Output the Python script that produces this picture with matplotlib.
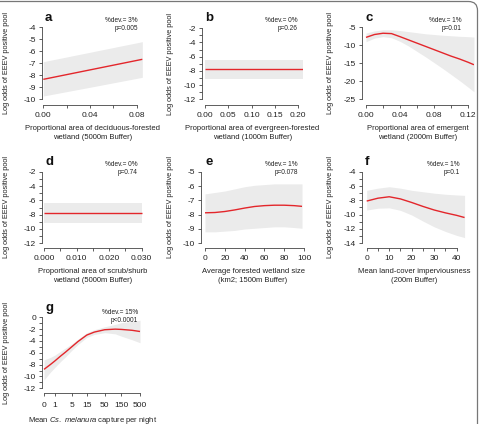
import numpy as np
import matplotlib
matplotlib.use("Agg")
import matplotlib.pyplot as plt
from matplotlib.patches import FancyBboxPatch
from matplotlib.transforms import IdentityTransform

plt.rcParams['font.family'] = ['Liberation Sans', 'DejaVu Sans']
plt.rcParams['mathtext.fontset'] = 'custom'
plt.rcParams['mathtext.rm'] = 'Liberation Sans'
plt.rcParams['mathtext.it'] = 'Liberation Sans:italic'

# ---------------- data ----------------
# a: deciduous-forested wetland (5000m)
a_x = [0.0, 0.0425, 0.085]
a_fit = [-8.35, -7.51, -6.67]
a_hi = [-6.87, -6.03, -5.19]
a_lo = [-9.75, -8.97, -8.18]

# b: evergreen-forested wetland (1000m)
b_x = [0.0, 0.21]
b_fit = [-7.77, -7.77]
b_hi = [-6.46, -6.46]
b_lo = [-9.13, -9.13]

# c: emergent wetland (2000m)
c_x = [0.0, 0.01, 0.02, 0.03, 0.04, 0.05, 0.06, 0.07, 0.08, 0.09, 0.10, 0.11, 0.12, 0.127]
c_fit = [-7.8, -7.0, -6.65, -6.75, -7.6, -8.5, -9.4, -10.3, -11.2, -12.1, -13.0, -13.8, -14.7, -15.4]
c_hi = [-6.6, -6.0, -5.7, -5.7, -5.9, -6.2, -6.5, -6.8, -7.0, -7.2, -7.35, -7.5, -7.6, -7.7]
c_lo = [-9.0, -8.0, -7.6, -7.9, -8.9, -10.2, -11.7, -13.2, -14.8, -16.4, -18.1, -19.8, -21.6, -22.9]

# d: scrub/shrub wetland (5000m)
d_x = [0.0, 0.030]
d_fit = [-7.73, -7.73]
d_hi = [-6.42, -6.42]
d_lo = [-9.13, -9.13]

# e: average forested wetland size
e_x = [0, 10, 20, 30, 40, 50, 60, 70, 80, 90, 98]
e_fit = [-7.87, -7.85, -7.78, -7.67, -7.54, -7.43, -7.37, -7.34, -7.34, -7.37, -7.42]
e_hi = [-6.55, -6.45, -6.35, -6.2, -6.05, -5.95, -5.9, -5.85, -5.85, -5.85, -5.85]
e_lo = [-9.2, -9.2, -9.15, -9.1, -9.0, -8.95, -8.9, -8.85, -8.85, -8.9, -8.95]

# f: imperviousness
f_x = [0, 5, 10, 15, 20, 25, 30, 35, 40, 43.5]
f_fit = [-8.1, -7.7, -7.5, -7.8, -8.3, -8.85, -9.35, -9.75, -10.1, -10.4]
f_hi = [-6.6, -6.3, -6.1, -6.3, -6.6, -6.8, -7.0, -7.15, -7.25, -7.3]
f_lo = [-9.35, -9.1, -9.05, -9.4, -10.05, -10.9, -11.7, -12.35, -12.9, -13.2]

# g: Cs. melanura capture per night
g_x = [0, 0.5, 1, 2, 3, 5, 8, 15, 25, 50, 100, 150, 300, 500]
g_fit = [-8.8, -8.0, -7.4, -6.5, -5.9, -5.0, -4.1, -3.0, -2.5, -2.1, -2.0, -2.05, -2.2, -2.4]
g_hi = [-7.2, -6.8, -6.4, -5.7, -5.2, -4.5, -3.7, -2.6, -2.1, -1.6, -1.2, -0.9, -0.7, -0.5]
g_lo = [-10.6, -9.3, -8.5, -7.4, -6.7, -5.6, -4.6, -3.4, -2.9, -2.6, -2.8, -3.2, -3.8, -4.3]

titles = ['a', 'b', 'c', 'd', 'e', 'f', 'g']
devs = ['%dev.= 3%', '%dev.= 0%', '%dev.= 1%', '%dev.= 0%', '%dev.= 1%', '%dev.= 1%', '%dev.= 15%']
pvals = ['p=0.005', 'p=0.26', 'p=0.01', 'p=0.74', 'p=0.078', 'p=0.1', 'p<0.0001']
xlabels = ['Proportional area of deciduous-forested\nwetland (5000m Buffer)',
           'Proportional area of evergreen-forested\nwetland (1000m Buffer)',
           'Proportional area of emergent\nwetland (2000m Buffer)',
           'Proportional area of scrub/shurb\nwetland (5000m Buffer)',
           'Average forested wetland size\n(km2; 1500m Buffer)',
           'Mean land-cover imperviousness\n(200m Buffer)',
           r'Mean $\it{Cs.}$ $\it{melanura}$ capture per night']
ylabel = 'Log odds of EEEV positive pool'

a_xt = [0.0, 0.02, 0.04, 0.06, 0.08]
a_xl = ['0.00', '', '0.04', '', '0.08']
a_yt = [-4, -5, -6, -7, -8, -9, -10]
a_yl = ['-4', '-5', '-6', '-7', '-8', '-9', '-10']
b_xt = [0.0, 0.05, 0.10, 0.15, 0.20]
b_xl = ['0.00', '0.05', '0.10', '0.15', '0.20']
b_yt = list(range(-2, -13, -1))
b_yl = ['-2', '', '-4', '', '-6', '', '-8', '', '-10', '', '-12']
c_xt = [0.0, 0.02, 0.04, 0.06, 0.08, 0.10, 0.12]
c_xl = ['0.00', '', '0.04', '', '0.08', '', '0.12']
c_yt = [-5, -10, -15, -20, -25]
c_yl = ['-5', '-10', '-15', '-20', '-25']
d_xt = [0.0, 0.005, 0.010, 0.015, 0.020, 0.025, 0.030]
d_xl = ['0.000', '', '0.010', '', '0.020', '', '0.030']
d_yt = b_yt
d_yl = b_yl
e_xt = [0, 20, 40, 60, 80, 100]
e_xl = ['0', '20', '40', '60', '80', '100']
e_yt = [-5, -6, -7, -8, -9, -10]
e_yl = ['-5', '-6', '-7', '-8', '-9', '-10']
f_xt = [0, 5, 10, 15, 20, 25, 30, 35, 40]
f_xl = ['0', '', '10', '', '20', '', '30', '', '40']
f_yt = list(range(-4, -15, -1))
f_yl = ['-4', '', '-6', '', '-8', '', '-10', '', '-12', '', '-14']
g_xt = [0, 1, 5, 15, 50, 150, 500]
g_xl = ['0', '1', '5', '15', '50', '150', '500']
g_yt = list(range(0, -13, -1))
g_yl = ['0', '', '-2', '', '-4', '', '-6', '', '-8', '', '-10', '', '-12']

# ---------------- layout (pixels) ----------------
W, H = 480, 424
fig = plt.figure(figsize=(W / 100, H / 100), dpi=100)

RED = '#e3262b'
BAND = '#ebebeb'
AXC = '#444444'
TXT = '#222222'


def fxp(px):
    return px / W


def fyp(py):
    return 1 - py / H


def make_panel(box, xref, yref, x, fit, hi, lo, xt, xl, yt, yl, xfun=None):
    left, right, bottom, top = box
    ax = fig.add_axes([fxp(left), fyp(bottom), (right - left) / W, (bottom - top) / H])
    fwd = (lambda v: v) if xfun is None else xfun[0]
    inv = (lambda v: v) if xfun is None else xfun[1]
    if xfun is not None:
        ax.set_xscale('function', functions=xfun)
    (xv1, xp1), (xv2, xp2) = xref
    t1, t2 = fwd(xv1), fwd(xv2)
    sx = (t2 - t1) / (xp2 - xp1)
    ax.set_xlim(inv(t1 + (left - xp1) * sx), inv(t1 + (right - xp1) * sx))
    (yv1, yp1), (yv2, yp2) = yref
    sy = (yv2 - yv1) / (yp2 - yp1)
    ax.set_ylim(yv1 + (bottom - yp1) * sy, yv1 + (top - yp1) * sy)

    ax.fill_between(x, lo, hi, color=BAND, lw=0)
    ax.plot(x, fit, color=RED, lw=1.0, solid_capstyle='butt')

    ax.set_xticks(xt)
    ax.set_xticklabels(xl)
    ax.set_yticks(yt)
    ax.set_yticklabels(yl)
    ax.xaxis.set_minor_locator(matplotlib.ticker.NullLocator())
    for s in ['top', 'right']:
        ax.spines[s].set_visible(False)
    ax.spines['left'].set_bounds(min(yt), max(yt))
    ax.spines['bottom'].set_bounds(min(xt), max(xt))
    for s in ['left', 'bottom']:
        ax.spines[s].set_color(AXC)
        ax.spines[s].set_linewidth(0.6)
    ax.tick_params(axis='both', direction='out', length=2.2, width=0.6, color=AXC,
                   labelsize=6.0, labelcolor=TXT)
    ax.tick_params(axis='x', pad=2.6)
    ax.tick_params(axis='y', pad=2.2)
    ax.patch.set_visible(False)
    return ax


panels = [
    ((42, 143, 105, 20), ((0, 43.3), (0.08, 136.5)), ((-4, 27.5), (-10, 99)),
     a_x, a_fit, a_hi, a_lo, a_xt, a_xl, a_yt, a_yl),
    ((202, 303, 105, 20), ((0, 205), (0.20, 298)), ((-2, 28.3), (-12, 99.3)),
     b_x, b_fit, b_hi, b_lo, b_xt, b_xl, b_yt, b_yl),
    ((362, 474, 105, 20), ((0, 366), (0.12, 468)), ((-5, 27.3), (-25, 99.3)),
     c_x, c_fit, c_hi, c_lo, c_xt, c_xl, c_yt, c_yl),
    ((42, 143, 248, 164), ((0, 44), (0.030, 141.7)), ((-2, 171.7), (-12, 243.3)),
     d_x, d_fit, d_hi, d_lo, d_xt, d_xl, d_yt, d_yl),
    ((201, 305, 248, 164), ((0, 205), (100, 304)), ((-5, 171.7), (-10, 243.3)),
     e_x, e_fit, e_hi, e_lo, e_xt, e_xl, e_yt, e_yl),
    ((362, 467, 248, 164), ((0, 366.7), (40, 456.7)), ((-4, 171.7), (-14, 243.3)),
     f_x, f_fit, f_hi, f_lo, f_xt, f_xl, f_yt, f_yl),
    ((42, 143, 393, 308), ((0, 44), (500, 140)), ((0, 317.3), (-12, 388.3)),
     g_x, g_fit, g_hi, g_lo, g_xt, g_xl, g_yt, g_yl),
]

letter_pos = [(45, 18), (205, 18), (365, 18), (45, 162), (205, 162), (365, 162), (45, 308)]
ann_pos = [(138, 21), (298, 21), (462, 21), (138, 165), (298, 165), (460, 165), (138, 312)]
ylab_pos = [(7, 63), (171, 64), (330, 63), (7, 207), (171, 207), (330, 207), (7, 353)]
xlab_y = [133, 133, 133, 276, 276, 276, 420]

for i, p in enumerate(panels):
    xfun = (np.log1p, np.expm1) if i == 6 else None
    ax = make_panel(*p, xfun=xfun)
    if i == 6:
        ax.tick_params(axis='x', pad=4.5)
    lx, ly = letter_pos[i]
    fig.text(fxp(lx), fyp(ly), titles[i], fontsize=9.5, fontweight='bold',
             ha='left', va='center', color='#111111')
    axp, ayp = ann_pos[i]
    fig.text(fxp(axp), fyp(ayp), devs[i], fontsize=4.7, ha='right', va='center', color=TXT)
    fig.text(fxp(axp), fyp(ayp + 8), pvals[i], fontsize=4.7, ha='right', va='center', color=TXT)
    yx, yy = ylab_pos[i]
    fig.text(fxp(yx), fyp(yy), ylabel, fontsize=5.3, rotation=90, ha='center', va='center', color=TXT)
    box = p[0]
    cx = (box[0] + box[1]) / 2
    fig.text(fxp(cx), fyp(xlab_y[i]), xlabels[i], fontsize=5.5, ha='center', va='center',
             color=TXT, linespacing=1.45)

# border of the figure (top and right, rounded corner)
border = FancyBboxPatch((-20, -20), 477.5 + 20, H - 1.5 + 20,
                        boxstyle='round,pad=0,rounding_size=9',
                        transform=IdentityTransform(), fill=False,
                        edgecolor='#777777', linewidth=0.9)
fig.patches.append(border)

fig.savefig('out.png', dpi=100)
